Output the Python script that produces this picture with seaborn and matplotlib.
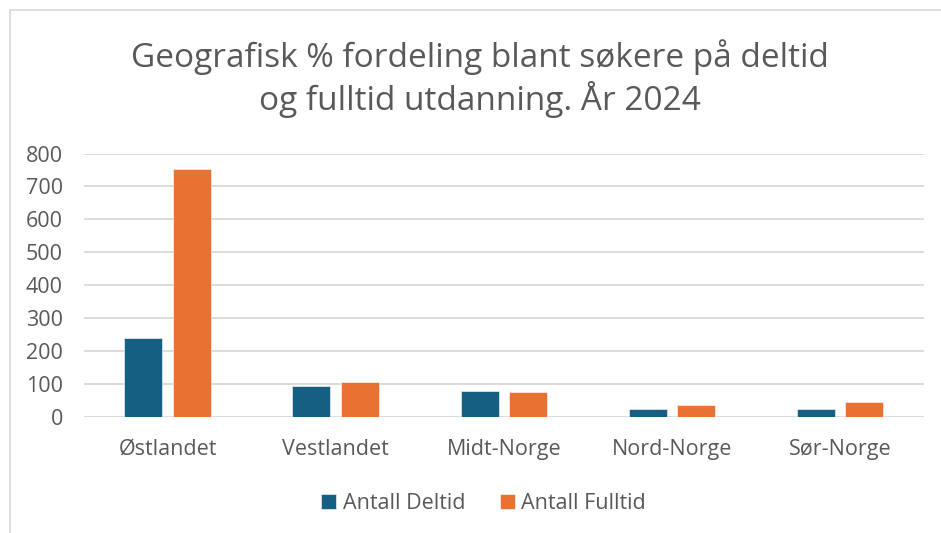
import pandas as pd
import seaborn as sns
import matplotlib.pyplot as plt
from matplotlib.patches import Rectangle

regions = ['Østlandet', 'Vestlandet', 'Midt-Norge', 'Nord-Norge', 'Sør-Norge']
deltid = [238, 95, 77, 25, 24]
fulltid = [753, 105, 75, 37, 44]
series = ['Antall Deltid', 'Antall Fulltid']

colors = ['#156082', '#E97132']
text_color = '#595959'

df = pd.DataFrame({'region': regions * 2,
                   'serie': [series[0]] * len(regions) + [series[1]] * len(regions),
                   'antall': deltid + fulltid})

sns.set_style('white')
plt.rcParams['font.family'] = ['Open Sans', 'DejaVu Sans']

fig = plt.figure(figsize=(9.41, 5.33), dpi=100)
ax = fig.add_axes([0.089, 0.218, 0.893, 0.494])

sns.barplot(data=df, x='region', y='antall', hue='serie', palette=colors, saturation=1,
            width=0.58, gap=0.22, ax=ax, edgecolor='white', linewidth=0.4)

ax.set_ylim(0, 800)
ax.set_xlim(-0.5, 4.5)
ax.set_yticks(range(0, 801, 100))
ax.yaxis.grid(True, color='#D9D9D9', linewidth=1.3)
ax.set_axisbelow(True)
for s in ax.spines.values():
    s.set_visible(False)
ax.set_xlabel('')
ax.set_ylabel('')
ax.tick_params(axis='both', length=0, labelsize=15.5, colors=text_color)
ax.tick_params(axis='y', pad=15)
ax.tick_params(axis='x', pad=16)

ax.legend(loc='center', bbox_to_anchor=(0.476, -0.328), ncol=2, frameon=False,
          fontsize=15.5, labelcolor=text_color, handlelength=0.7, handleheight=0.7,
          handletextpad=0.3, columnspacing=1.6)

fig.text(0.51, 0.852, 'Geografisk % fordeling blant søkere på deltid\nog fulltid utdanning. År 2024',
         ha='center', va='center', fontsize=24, color=text_color, linespacing=1.2)

# light frame of the chart area (cut at right/bottom)
fig.patches.append(Rectangle((10 / 941, -0.1), 1.2, 1 - 10 / 533 + 0.1,
                             transform=fig.transFigure, fill=False,
                             edgecolor='#D9D9D9', linewidth=1.2))

fig.savefig('out.png', dpi=100, facecolor='white')
